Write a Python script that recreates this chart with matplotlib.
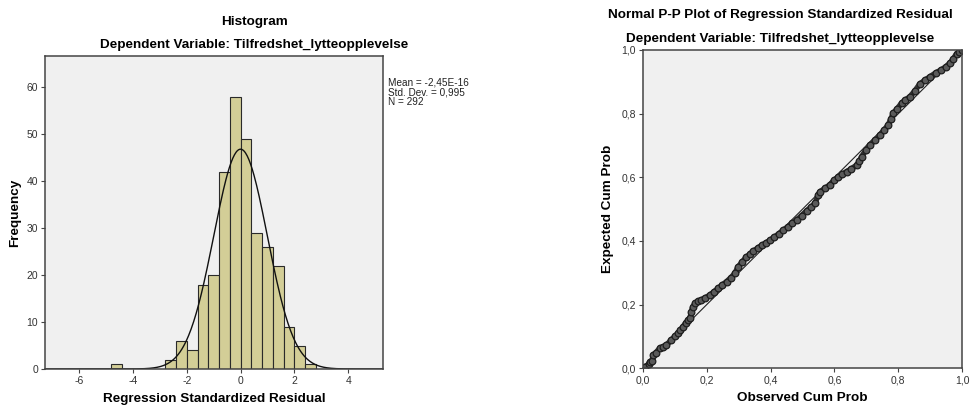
"""
Regression residual diagnostics: histogram and normal P-P plot
"""
import matplotlib
matplotlib.use("Agg")
import matplotlib.pyplot as plt
import numpy as np

plt.rcParams['font.family'] = ['Liberation Sans', 'DejaVu Sans']
plt.rcParams['axes.unicode_minus'] = False

# histogram of standardized residuals (bin width 0.4)
bin_left = [-4.8, -2.8, -2.4, -2.0, -1.6, -1.2, -0.8, -0.4,
            0.0, 0.4, 0.8, 1.2, 1.6, 2.0, 2.4]
counts = [1, 2, 6, 4, 18, 20, 42, 58, 49, 29, 26, 22, 9, 5, 1]
bin_width = 0.4
mean = -2.45e-16
std = 0.995
n = 292

# P-P plot points
obs_cum = [0.000, 0.006, 0.018, 0.022, 0.030, 0.032, 0.040, 0.053, 0.064,
           0.074, 0.089, 0.100, 0.110, 0.118, 0.126, 0.134, 0.142, 0.148,
           0.152, 0.156, 0.163, 0.173, 0.183, 0.196, 0.210, 0.222, 0.236,
           0.249, 0.262, 0.275, 0.288, 0.298, 0.311, 0.324, 0.335, 0.346,
           0.360, 0.372, 0.385, 0.398, 0.412, 0.426, 0.440, 0.454, 0.468,
           0.482, 0.497, 0.513, 0.526, 0.539, 0.549, 0.555, 0.570, 0.586,
           0.600, 0.612, 0.625, 0.638, 0.652, 0.669, 0.678, 0.685, 0.698,
           0.711, 0.726, 0.742, 0.755, 0.768, 0.776, 0.784, 0.796, 0.810,
           0.822, 0.836, 0.852, 0.867, 0.883, 0.899, 0.917, 0.935, 0.948,
           0.961, 0.972, 0.982, 0.990, 0.998]
exp_cum = [0.000, 0.005, 0.012, 0.021, 0.024, 0.042, 0.048, 0.063, 0.068,
           0.073, 0.089, 0.100, 0.110, 0.120, 0.131, 0.142, 0.152, 0.158,
           0.178, 0.192, 0.204, 0.210, 0.215, 0.222, 0.230, 0.240, 0.251,
           0.262, 0.272, 0.284, 0.298, 0.318, 0.334, 0.349, 0.358, 0.368,
           0.378, 0.386, 0.394, 0.402, 0.412, 0.423, 0.434, 0.445, 0.455,
           0.466, 0.480, 0.495, 0.506, 0.518, 0.545, 0.555, 0.565, 0.577,
           0.592, 0.600, 0.610, 0.618, 0.626, 0.638, 0.650, 0.665, 0.685,
           0.702, 0.716, 0.733, 0.748, 0.764, 0.782, 0.801, 0.815, 0.833,
           0.843, 0.853, 0.872, 0.893, 0.905, 0.916, 0.928, 0.938, 0.947,
           0.958, 0.972, 0.988, 0.994, 1.000]

pp_ticks = [0.0, 0.2, 0.4, 0.6, 0.8, 1.0]
pp_labels = ['0,0', '0,2', '0,4', '0,6', '0,8', '1,0']

bg = '#f0f0f0'
frame = '#444444'
tick_color = '#333333'
title_size = 9.7

fig = plt.figure(figsize=(9.71, 4.05), dpi=100)

# --- histogram ---
ax1 = fig.add_axes([0.0463, 0.0889, 0.348, 0.773])
ax1.set_facecolor(bg)
ax1.bar(bin_left, counts, width=bin_width, align='edge',
        color='#d3ce97', edgecolor='#2a2a2a', linewidth=0.8)
xs = np.linspace(-7.3, 5.3, 400)
curve = n * bin_width * np.exp(-0.5 * ((xs - mean) / std) ** 2) / (std * np.sqrt(2 * np.pi))
ax1.plot(xs, curve, color='#111111', linewidth=1.0)
ax1.set_xlim(-7.27, 5.29)
ax1.set_ylim(0, 66.7)
ax1.set_xticks([-6, -4, -2, 0, 2, 4])
ax1.set_yticks([0, 10, 20, 30, 40, 50, 60])
ax1.set_ylabel('Frequency', fontsize=title_size, fontweight='bold', labelpad=4)
ax1.set_xlabel('Regression Standardized Residual', fontsize=title_size,
               fontweight='bold', labelpad=5)
ax1.text(1.015, 0.93, 'Mean = -2,45E-16\nStd. Dev. = 0,995\nN = 292',
         transform=ax1.transAxes, fontsize=7.2, va='top', ha='left',
         linespacing=0.95, color='#222222')
fig.text(254 / 971, 1 - 22 / 405, 'Histogram', ha='center', va='center',
         fontsize=title_size, fontweight='bold')
fig.text(254 / 971, 1 - 45 / 405, 'Dependent Variable: Tilfredshet_lytteopplevelse',
         ha='center', va='center', fontsize=title_size, fontweight='bold')

# --- P-P plot ---
ax2 = fig.add_axes([0.662, 0.0906, 0.329, 0.786])
ax2.set_facecolor(bg)
ax2.plot([0, 1], [0, 1], color='#222222', linewidth=0.8)
ax2.plot(obs_cum, exp_cum, color='#333333', linewidth=4.0, solid_capstyle='round')
ax2.plot(obs_cum, exp_cum, linestyle='none', marker='o', markersize=4.8,
         markerfacecolor='#5a5a5a', markeredgecolor='#1e1e1e', markeredgewidth=0.9)
ax2.set_xlim(0, 1)
ax2.set_ylim(0, 1)
ax2.set_xticks(pp_ticks)
ax2.set_xticklabels(pp_labels)
ax2.set_yticks(pp_ticks)
ax2.set_yticklabels(pp_labels)
ax2.set_xlabel('Observed Cum Prob', fontsize=title_size, fontweight='bold', labelpad=5)
ax2.set_ylabel('Expected Cum Prob', fontsize=title_size, fontweight='bold', labelpad=5)
fig.text(780 / 971, 1 - 15 / 405, 'Normal P-P Plot of Regression Standardized Residual',
         ha='center', va='center', fontsize=title_size, fontweight='bold')
fig.text(780 / 971, 1 - 39 / 405, 'Dependent Variable: Tilfredshet_lytteopplevelse',
         ha='center', va='center', fontsize=title_size, fontweight='bold')

for ax in (ax1, ax2):
    for s in ax.spines.values():
        s.set_color(frame)
        s.set_linewidth(1.1)
    ax.tick_params(direction='out', length=3, width=0.8, colors=frame,
                   labelsize=7.5, labelcolor=tick_color, pad=2)

fig.savefig('out.png', dpi=100)
